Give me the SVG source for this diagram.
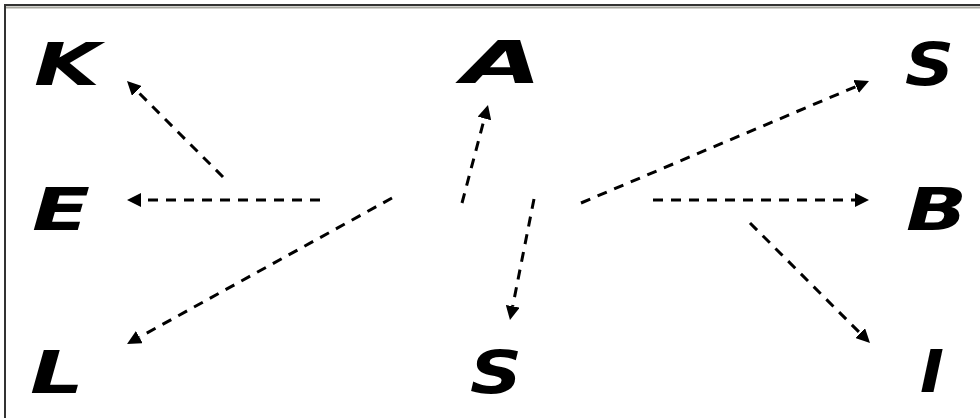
<svg xmlns="http://www.w3.org/2000/svg" width="980" height="418" viewBox="0 0 980 418">
<style>
.lbl{font-family:"DejaVu Sans","Liberation Sans",sans-serif;font-weight:bold;font-style:italic;font-size:58px;fill:#000}
.arr{stroke:#000;stroke-width:3;stroke-dasharray:10 8;fill:none;marker-end:url(#ah)}
</style>
<defs>
<marker id="ah" markerUnits="userSpaceOnUse" viewBox="0 -7 14 14" markerWidth="14" markerHeight="14" refX="0" refY="0" orient="auto">
<path d="M0,-7 L14,0 L0,7 z" fill="#000"/>
</marker>
</defs>
<rect x="0" y="0" width="980" height="418" fill="#fff"/>
<g id="frame">
<line x1="4" y1="5" x2="980" y2="5" stroke="#333" stroke-width="2"/>
<line x1="6" y1="7.5" x2="980" y2="7.5" stroke="#a8a8a0" stroke-width="2"/>
<line x1="5" y1="5" x2="5" y2="418" stroke="#333" stroke-width="2"/>
</g>
<g id="node-K"><text class="lbl" x="34" y="85" textLength="66" lengthAdjust="spacingAndGlyphs">K</text></g>
<g id="node-A"><text class="lbl" x="462" y="83" textLength="80" lengthAdjust="spacingAndGlyphs">A</text></g>
<g id="node-S1"><text class="lbl" x="905" y="85" textLength="49" lengthAdjust="spacingAndGlyphs">S</text></g>
<g id="node-E"><text class="lbl" x="32" y="230" textLength="58" lengthAdjust="spacingAndGlyphs">E</text></g>
<g id="node-B"><text class="lbl" x="906" y="230" textLength="61" lengthAdjust="spacingAndGlyphs">B</text></g>
<g id="node-L"><text class="lbl" x="30" y="393" textLength="54" lengthAdjust="spacingAndGlyphs">L</text></g>
<g id="node-S2"><text class="lbl" x="470" y="393" textLength="52" lengthAdjust="spacingAndGlyphs">S</text></g>
<g id="node-I"><text class="lbl" x="920" y="392" textLength="24" lengthAdjust="spacingAndGlyphs">I</text></g>
<g id="connectors">
<line class="arr" x1="223" y1="177" x2="136.9" y2="90.9"/>
<line class="arr" x1="320" y1="200" x2="141" y2="200"/>
<line class="arr" x1="392" y1="198" x2="139.3" y2="337.2"/>
<line class="arr" x1="462" y1="203" x2="484.4" y2="118.5"/>
<line class="arr" x1="581" y1="203" x2="856.1" y2="86.5"/>
<line class="arr" x1="653" y1="200" x2="855" y2="200"/>
<line class="arr" x1="750" y1="223" x2="860.1" y2="333.1"/>
<line class="arr" x1="534" y1="199" x2="512.7" y2="306.3"/>
</g>
</svg>
